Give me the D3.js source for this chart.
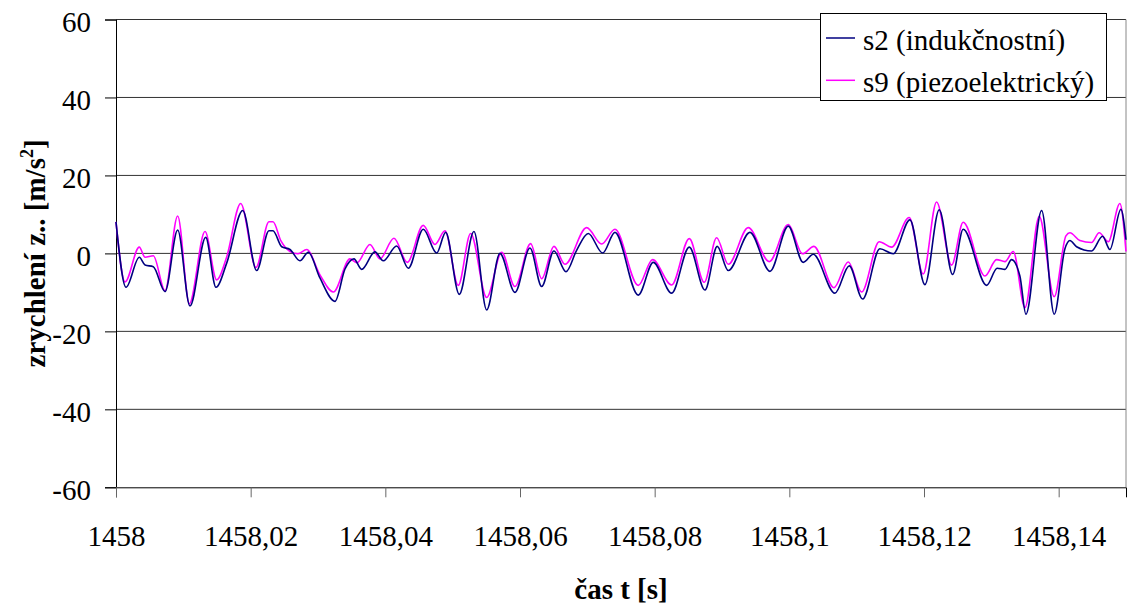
<!DOCTYPE html>
<html>
<head>
<meta charset="utf-8">
<script src="https://cdn.jsdelivr.net/npm/d3@7"></script>
<style>
  body { margin: 0; background: #fff; }
  svg text { font-family: "Times New Roman", "Liberation Serif", "DejaVu Serif", serif; }
</style>
</head>
<body>
<div id="chart"></div>
<script>
// Data: time [s] and acceleration [m/s2]
const s2Time = [1458.00000, 1458.00149, 1458.00346, 1458.00431, 1458.00554, 1458.00728, 1458.00916, 1458.01099,
  1458.01332, 1458.01485, 1458.01644, 1458.01882, 1458.02089, 1458.02272, 1458.02331, 1458.02461, 1458.02584,
  1458.02732, 1458.02856, 1458.03029, 1458.03252, 1458.03401, 1458.03534, 1458.03649, 1458.03846, 1458.03970,
  1458.04168, 1458.04341, 1458.04563, 1458.04762, 1458.04896, 1458.05098, 1458.05316, 1458.05505, 1458.05702,
  1458.05925, 1458.06148, 1458.06322, 1458.06504, 1458.06683, 1458.06841, 1458.07014, 1458.07227, 1458.07410,
  1458.07756, 1458.07979, 1458.08252, 1458.08514, 1458.08747, 1458.08929, 1458.09093, 1458.09415, 1458.09712,
  1458.09984, 1458.10206, 1458.10355, 1458.10677, 1458.10890, 1458.11088, 1458.11345, 1458.11543, 1458.11791,
  1458.12014, 1458.12226, 1458.12425, 1458.12582, 1458.12930, 1458.13087, 1458.13202, 1458.13301, 1458.13424,
  1458.13514, 1458.13747, 1458.13934, 1458.14093, 1458.14167, 1458.14266, 1458.14489, 1458.14652, 1458.14761,
  1458.14924, 1458.15000];
const s2Values = [8.1, -8.7, -1.0, -3.0, -3.4, -9.8, 6.0, -13.5,
  4.1, -8.7, -2.5, 11.0, -4.4, 5.8, 5.8, 1.7, 1.0,
  -1.9, 0.3, -6.3, -12.3, -4.0, -1.4, -4.1, 0.4, -1.9,
  1.9, -3.8, 6.2, 0.1, 5.4, -10.5, 5.6, -14.5, 0.0,
  -10.0, 1.4, -8.5, 0.6, -4.7, 0.8, 5.1, 0.1, 5.4,
  -10.7, -2.3, -10.2, 1.6, -9.4, 1.8, -4.4, 5.4, -4.6,
  7.0, -2.3, -0.2, -10.2, -3.2, -11.7, 1.2, -0.1, 8.6,
  -8.0, 11.2, -5.4, 6.2, -8.2, -3.8, -4.1, -1.6, -5.8,
  -15.6, 11.0, -15.6, 1.2, 3.3, 1.7, 0.6, 4.4, 1.0,
  11.3, 3.5];

const s9Time = [1458.00000, 1458.00134, 1458.00346, 1458.00431, 1458.00554, 1458.00728, 1458.00916, 1458.01089,
  1458.01322, 1458.01495, 1458.01644, 1458.01852, 1458.02079, 1458.02272, 1458.02331, 1458.02450, 1458.02584,
  1458.02703, 1458.02832, 1458.03029, 1458.03227, 1458.03475, 1458.03579, 1458.03772, 1458.03920, 1458.04128,
  1458.04326, 1458.04563, 1458.04737, 1458.04886, 1458.05083, 1458.05267, 1458.05505, 1458.05728, 1458.05925,
  1458.06158, 1458.06322, 1458.06504, 1458.06668, 1458.06990, 1458.07213, 1458.07410, 1458.07756, 1458.07970,
  1458.08252, 1458.08514, 1458.08736, 1458.08920, 1458.09093, 1458.09390, 1458.09702, 1458.09984, 1458.10197,
  1458.10365, 1458.10662, 1458.10875, 1458.11074, 1458.11335, 1458.11519, 1458.11780, 1458.11988, 1458.12187,
  1458.12410, 1458.12582, 1458.12905, 1458.13078, 1458.13202, 1458.13325, 1458.13499, 1458.13711, 1458.13934,
  1458.14108, 1458.14167, 1458.14315, 1458.14489, 1458.14602, 1458.14736, 1458.14909, 1458.15000];
const s9Values = [8.1, -7.3, 1.6, -1.0, -0.6, -9.6, 9.6, -12.9,
  5.6, -6.8, -0.9, 12.8, -3.6, 8.1, 8.1, 3.2, 0.5,
  -0.1, 1.0, -5.5, -9.9, -1.4, -2.4, 2.3, -1.4, 3.9,
  -2.3, 7.2, 2.3, 5.8, -8.2, 5.1, -11.3, 0.3, -8.5,
  2.5, -6.5, 1.8, -2.8, 6.6, 2.4, 6.2, -8.2, -1.6,
  -8.1, 3.8, -7.4, 4.0, -2.8, 6.6, -2.1, 7.4, -0.1,
  1.8, -8.8, -2.2, -9.9, 3.0, 1.6, 9.2, -5.3, 13.2,
  -3.0, 8.0, -5.8, -1.6, -2.1, 0.5, -13.9, 9.5, -11.1,
  4.5, 5.3, 3.3, 2.8, 5.3, 3.0, 12.8, 0.5];

const seriesNames = ["s2 (indukčnostní)", "s9 (piezoelektrický)"];
const seriesColors = ["#000080", "#ff00ff"];
const xTicks = [1458, 1458.02, 1458.04, 1458.06, 1458.08, 1458.1, 1458.12, 1458.14];
const yTicks = [-60, -40, -20, 0, 20, 40, 60];

const W = 1133, H = 605;
const serif = "'Times New Roman', 'Liberation Serif', 'DejaVu Serif', serif";
const fontSize = 29;
const plot = { left: 116, right: 1126, top: 19.5, bottom: 487.3 };

const svg = d3.select("#chart").append("svg")
  .attr("width", W)
  .attr("height", H);

svg.append("rect").attr("width", W).attr("height", H).attr("fill", "#fff");

const x = d3.scaleLinear().domain([1458, 1458.15]).range([plot.left, plot.right]);
const y = d3.scaleLinear().domain([-60, 60]).range([plot.bottom, plot.top]);

// horizontal gridlines
svg.append("g")
  .selectAll("line")
  .data(yTicks.filter(d => d > -60))
  .join("line")
    .attr("x1", plot.left).attr("x2", plot.right)
    .attr("y1", d => y(d)).attr("y2", d => y(d))
    .attr("stroke", "#333")
    .attr("stroke-width", 1);

// right border of plot area
svg.append("line")
  .attr("x1", plot.right).attr("x2", plot.right)
  .attr("y1", plot.top).attr("y2", plot.bottom)
  .attr("stroke", "#888");

// y axis
const yAxis = svg.append("g")
  .attr("transform", `translate(${plot.left},0)`)
  .call(d3.axisLeft(y).tickValues(yTicks).tickSize(11).tickPadding(14).tickFormat(d => String(d)));
yAxis.attr("font-family", serif).attr("font-size", fontSize);
yAxis.select(".domain").attr("stroke", "#000");
yAxis.selectAll(".tick line").attr("stroke", "#000");
yAxis.selectAll(".tick text")
  .attr("fill", "#000")
  .attr("dy", "0.41em");

// x axis
const xAxis = svg.append("g")
  .attr("transform", `translate(0,${plot.bottom})`)
  .call(d3.axisBottom(x).tickValues(xTicks).tickSize(10).tickPadding(28)
    .tickFormat(d => String(+d.toFixed(2)).replace(".", ",")));
xAxis.attr("font-family", serif).attr("font-size", fontSize);
xAxis.select(".domain").attr("stroke", "#000");
xAxis.selectAll(".tick line").attr("stroke", "#666");
xAxis.selectAll(".tick text").attr("fill", "#000");

// lines
const line = d3.line()
  .x(d => x(d[0]))
  .y(d => y(d[1]))
  .curve(d3.curveMonotoneX);

const s2 = s2Time.map((t, i) => [t, s2Values[i]]);
const s9 = s9Time.map((t, i) => [t, s9Values[i]]);

svg.append("path")
  .datum(s9)
  .attr("d", line)
  .attr("fill", "none")
  .attr("stroke", seriesColors[1])
  .attr("stroke-width", 1.6);

svg.append("path")
  .datum(s2)
  .attr("d", line)
  .attr("fill", "none")
  .attr("stroke", seriesColors[0])
  .attr("stroke-width", 1.6);

// legend
const legend = svg.append("g").attr("font-family", serif);
legend.append("rect")
  .attr("x", 820.5).attr("y", 13.5)
  .attr("width", 286).attr("height", 87)
  .attr("fill", "#fff")
  .attr("stroke", "#000");

seriesNames.forEach((name, i) => {
  const ly = 38 + i * 42.3;
  legend.append("line")
    .attr("x1", 826).attr("x2", 855)
    .attr("y1", ly).attr("y2", ly)
    .attr("stroke", seriesColors[i])
    .attr("stroke-width", 1.5);
  legend.append("text")
    .attr("x", 863).attr("y", ly + 12)
    .attr("font-size", fontSize)
    .text(name);
});

// axis titles
svg.append("text")
  .attr("x", (plot.left + plot.right) / 2)
  .attr("y", 599)
  .attr("text-anchor", "middle")
  .attr("font-family", serif)
  .attr("font-size", fontSize)
  .attr("font-weight", "bold")
  .text("čas t [s]");

const yTitle = svg.append("text")
  .attr("transform", `translate(45,${(plot.top + plot.bottom) / 2}) rotate(-90)`)
  .attr("text-anchor", "middle")
  .attr("font-family", serif)
  .attr("font-size", fontSize)
  .attr("font-weight", "bold");
yTitle.append("tspan").text("zrychlení z.. [m/s");
yTitle.append("tspan").attr("dy", -12).attr("font-size", 18).text("2");
yTitle.append("tspan").attr("dy", 12).text("]");
</script>
</body>
</html>
